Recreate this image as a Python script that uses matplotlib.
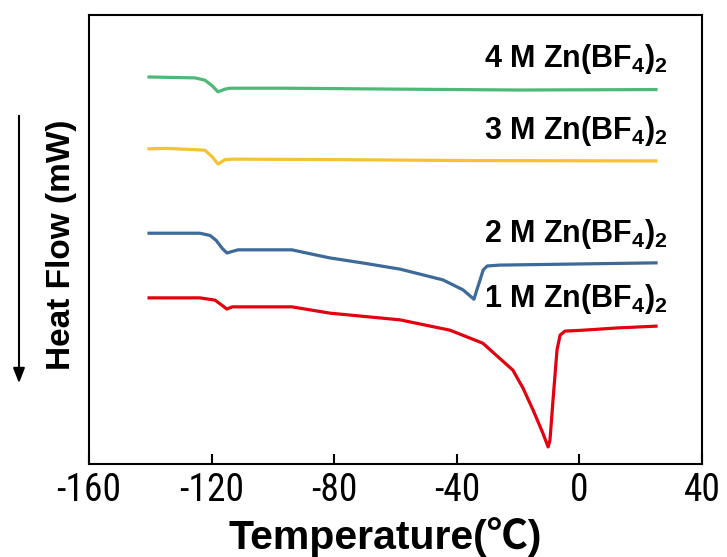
import matplotlib
matplotlib.use('Agg')
import matplotlib.pyplot as plt
from matplotlib import font_manager

installed = {f.name for f in font_manager.fontManager.ttflist}
narrow = next((n for n in ['Liberation Sans Narrow', 'Roboto Condensed', 'Open Sans Condensed']
               if n in installed), 'Liberation Sans')

plt.rcParams['font.family'] = ['Liberation Sans', 'DejaVu Sans']
plt.rcParams['axes.unicode_minus'] = False
plt.rcParams['mathtext.fontset'] = 'custom'
plt.rcParams['mathtext.rm'] = 'Liberation Sans:bold'
plt.rcParams['mathtext.bf'] = 'Liberation Sans:bold'
plt.rcParams['mathtext.default'] = 'bf'

# DSC traces, temperature in deg C, heat flow in arbitrary offset units
temp_4m = [-140.4, -125.4, -122.2, -119.9, -117.9, -115.6, -114.0, -95.4, -60.0, -20.0, 25.0]
flow_4m = [86.2, 86.0, 85.5, 84.3, 82.9, 83.5, 83.7, 83.7, 83.5, 83.3, 83.4]

temp_3m = [-140.4, -135.0, -125.0, -122.2, -119.9, -117.9, -115.6, -113.0, -80.0, -40.0, 25.0]
flow_3m = [70.2, 70.3, 70.0, 69.9, 68.5, 66.8, 67.8, 67.9, 67.8, 67.6, 67.5]

temp_2m = [-140.4, -123.8, -120.5, -118.5, -116.5, -115.0, -111.4, -93.8, -85.6, -81.4, -70.0,
           -58.5, -44.5, -38.0, -34.4, -33.4, -32.4, -31.4, -30.1, -26.0, 25.0]
flow_2m = [51.4, 51.4, 50.9, 49.8, 48.0, 47.0, 47.7, 47.7, 46.5, 45.9, 44.7,
           43.4, 41.0, 38.8, 36.7, 38.9, 41.0, 43.2, 44.1, 44.3, 44.8]

temp_1m = [-140.4, -123.8, -118.9, -116.5, -115.0, -113.3, -93.8, -81.4, -58.5, -42.2,
           -31.5, -21.7, -18.4, -15.1, -12.0, -10.2, -9.6, -8.6, -7.3, -6.3, -4.7,
           1.2, 12.3, 25.0]
flow_1m = [37.0, 37.0, 36.5, 35.3, 34.5, 35.0, 35.0, 33.6, 32.1, 29.8,
           26.9, 20.9, 16.9, 12.0, 7.0, 3.8, 5.3, 14.3, 25.4, 28.7, 29.6,
           29.8, 30.3, 30.7]

labels = ['4 M Zn(BF$_4$)$_2$', '3 M Zn(BF$_4$)$_2$',
          '2 M Zn(BF$_4$)$_2$', '1 M Zn(BF$_4$)$_2$']
label_y = [90.2, 74.2, 51.3, 36.7]
colors = ['#4db878', '#f4c232', '#3d6a98', '#e3000f']

fig = plt.figure(figsize=(7.27, 5.57), dpi=100)
ax = fig.add_axes([0.1224, 0.167, 0.8432, 0.806])

series = [(temp_4m, flow_4m), (temp_3m, flow_3m), (temp_2m, flow_2m), (temp_1m, flow_1m)]
for (t, f), c in zip(series, colors):
    ax.plot(t, f, color=c, lw=2.3, solid_joinstyle='round')

for lab, y in zip(labels, label_y):
    ax.text(29, y, lab, ha='right', va='center', fontsize=22, fontweight='bold')

ax.set_xlim(-160, 40)
ax.set_ylim(0, 100)
ax.set_xticks([-160, -120, -80, -40, 0, 40])
ax.set_yticks([])
ax.tick_params(axis='x', direction='in', length=7, width=1.5, labelsize=27, pad=6)
for lbl in ax.get_xticklabels():
    lbl.set_family([narrow, 'DejaVu Sans'])
for s in ax.spines.values():
    s.set_linewidth(1.5)

ax.set_xlabel('Temperature(℃)', fontsize=29.5, fontweight='bold', labelpad=0,
              family=['Liberation Sans', 'Noto Sans CJK SC', 'DejaVu Sans'])
ax.xaxis.set_label_coords(0.483, -0.118)
fig.text(0.085, 0.56, 'Heat Flow (mW)', rotation=90, ha='center', va='center',
         fontsize=24, fontweight='bold')

# downward arrow beside the y label
ax.annotate('', xy=(19, 171), xytext=(19, 444), xycoords='figure pixels',
            textcoords='figure pixels',
            arrowprops=dict(arrowstyle='-|>,head_length=0.9,head_width=0.35',
                            color='black', lw=1.5))

fig.savefig('out.png', dpi=100)
